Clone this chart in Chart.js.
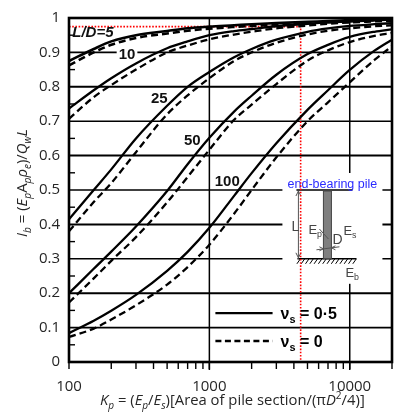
<!DOCTYPE html>
<html><head><meta charset="utf-8">
<script src="https://cdn.jsdelivr.net/npm/chart.js@4.4.0/dist/chart.umd.min.js"></script>
<style>html,body{margin:0;padding:0;background:#fff}#c{display:block}</style>
</head><body>
<canvas id="c" width="400" height="418"></canvas>
<script>
// ---- data ----
const kp = [100,150,200,300,500,700,1000,1500,2000,3000,5000,7000,10000,15000,20000];
const ld5Solid   = [0.875,0.910,0.932,0.950,0.962,0.970,0.975,0.979,0.982,0.985,0.989,0.991,0.994,0.997,0.999];
const ld5Dash    = [0.862,0.900,0.922,0.942,0.955,0.963,0.969,0.974,0.977,0.981,0.985,0.988,0.991,0.994,0.996];
const ld10Solid  = [0.737,0.790,0.825,0.868,0.912,0.932,0.950,0.962,0.968,0.976,0.983,0.987,0.990,0.993,0.995];
const ld10Dash   = [0.707,0.770,0.805,0.850,0.900,0.920,0.938,0.952,0.960,0.970,0.978,0.983,0.987,0.990,0.992];
const ld25Solid  = [0.415,0.500,0.560,0.650,0.745,0.800,0.843,0.886,0.910,0.937,0.960,0.970,0.977,0.982,0.985];
const ld25Dash   = [0.380,0.465,0.520,0.610,0.720,0.775,0.825,0.875,0.900,0.928,0.952,0.963,0.970,0.976,0.979];
const ld50Solid  = [0.200,0.271,0.321,0.394,0.497,0.575,0.652,0.728,0.774,0.835,0.895,0.922,0.945,0.960,0.967];
const ld50Dash   = [0.173,0.243,0.294,0.363,0.464,0.538,0.617,0.704,0.748,0.808,0.876,0.906,0.930,0.948,0.957];
const ld100Solid = [0.084,0.120,0.149,0.195,0.265,0.320,0.390,0.483,0.549,0.636,0.733,0.790,0.849,0.905,0.937];
const ld100Dash  = [0.073,0.097,0.1235,0.165,0.225,0.276,0.341,0.431,0.500,0.595,0.700,0.755,0.813,0.878,0.918];
const redX = [100,4470,4470];
const redY = [0.975,0.975,0];
const xTickLabels = [100,1000,10000];
const yTickValues = [0,0.1,0.2,0.3,0.4,0.5,0.6,0.7,0.8,0.9,1];
const curveLabels = ['L/D=5','10','25','50','100'];
const legendLabels = ['0·5','0'];
const insetTitle = 'end-bearing pile';

// ---- label anchors (data coords) ----
const labelAnchors = [[148,0.96],[259,0.896],[440,0.769],[756,0.645],[1340,0.526]];

const FAM = '"Open Sans", sans-serif';
const ARIAL = '"Liberation Sans", Arial, sans-serif';

function fontFor(r,size,fam){const s=(r.sub||r.sup)?size*0.68:size;return `${r.i?'italic ':''}${r.b?'bold ':''}${s}px ${fam}`;}
function measureRuns(ctx,runs,size,fam){let w=0;for(const r of runs){ctx.font=fontFor(r,size,fam);w+=ctx.measureText(r.t).width;}return w;}
function drawRuns(ctx,runs,x,y,size,fam){let cx=x;ctx.textAlign='left';ctx.textBaseline='alphabetic';for(const r of runs){ctx.font=fontFor(r,size,fam);const dy=r.sub?size*0.24:r.sup?-size*0.4:0;ctx.fillText(r.t,cx,y+dy);cx+=ctx.measureText(r.t).width;}return cx;}

const yTitle=[{t:'I',i:1},{t:'b',i:1,sub:1},{t:' = ('},{t:'E',i:1},{t:'p',i:1,sub:1},{t:'A'},{t:'p',i:1,sub:1},{t:'ρ',i:1},{t:'e',i:1,sub:1},{t:')/'},{t:'Q',i:1},{t:'w',i:1,sub:1},{t:'L',i:1}];
const xTitle=[{t:'K',i:1},{t:'p',i:1,sub:1},{t:' = ('},{t:'E',i:1},{t:'p',i:1,sub:1},{t:'/'},{t:'E',i:1},{t:'s',i:1,sub:1},{t:')[Area of pile section/(π'},{t:'D',i:1},{t:'2',sup:1},{t:'/4)]'}];

function mk(arr,dash,w){return {data:kp.map((x,i)=>({x:x,y:arr[i]})),borderColor:'#000',borderWidth:w||2.3,borderDash:dash?[7,4]:[],pointRadius:0,fill:false,cubicInterpolationMode:'monotone'};}

const datasets=[
  mk(ld5Solid,false,2.6),mk(ld5Dash,true,2.6),
  mk(ld10Solid,false),mk(ld10Dash,true),
  mk(ld25Solid,false),mk(ld25Dash,true),
  mk(ld50Solid,false),mk(ld50Dash,true),
  mk(ld100Solid,false),mk(ld100Dash,true),
  {data:redX.map((x,i)=>({x:x,y:redY[i]})),borderColor:'#ff0000',borderWidth:1.6,borderDash:[1.6,1.6],pointRadius:0,fill:false,tension:0}
];

function arrowHead(ctx,x,y,dir){
  const s = dir==='up'?1:-1;
  ctx.beginPath();ctx.moveTo(x-2.5,y+5*s);ctx.lineTo(x,y);ctx.lineTo(x+2.5,y+5*s);ctx.stroke();
}

const decor={
  id:'decor',
  beforeDatasetsDraw(chart){
    const ctx=chart.ctx, xs=chart.scales.x, ys=chart.scales.y, a=chart.chartArea;
    ctx.save();
    ctx.strokeStyle='#000';
    for(const v of yTickValues){const y=ys.getPixelForValue(v);ctx.lineWidth=(Math.round(v*10)%2===0)?2:1.6;ctx.beginPath();ctx.moveTo(a.left,y);ctx.lineTo(a.right,y);ctx.stroke();}
    ctx.lineWidth=1.5;
    for(const v of [1000,10000]){const x=xs.getPixelForValue(v);ctx.beginPath();ctx.moveTo(x,a.top);ctx.lineTo(x,a.bottom+8);ctx.stroke();}
    ctx.lineWidth=1.4;
    for(const d of [100,1000,10000]){for(let m=1;m<=9;m++){const v=d*m;if(v>20000)break;const x=xs.getPixelForValue(v);ctx.beginPath();ctx.moveTo(x,a.bottom);ctx.lineTo(x,a.bottom+7);ctx.stroke();}}
    for(let k=0;k<10;k++){const y=ys.getPixelForValue(0.05+k*0.1);ctx.beginPath();ctx.moveTo(a.left,y);ctx.lineTo(a.left+6,y);ctx.stroke();}
    // inset
    const gx=xs.getPixelForValue(4170), gy=ys.getPixelForValue(0.5), by=ys.getPixelForValue(0.3);
    ctx.fillStyle='#fff';
    ctx.fillRect(gx-14,gy-17,100,by-gy+42);
    ctx.strokeStyle='#000';ctx.lineWidth=1.6;
    ctx.beginPath();ctx.moveTo(gx,gy);ctx.lineTo(gx+56,gy);ctx.stroke();
    ctx.beginPath();ctx.moveTo(gx+1,by);ctx.lineTo(gx+60,by);ctx.stroke();
    ctx.lineWidth=1;
    for(let x=gx+4;x<=gx+60;x+=4.3){ctx.beginPath();ctx.moveTo(x,by);ctx.lineTo(x-3.5,by+5);ctx.stroke();}
    ctx.fillStyle='#7f7f7f';ctx.strokeStyle='#444';ctx.lineWidth=1;
    ctx.fillRect(gx+27,gy+1,8,by-gy-1);ctx.strokeRect(gx+27,gy+1,8,by-gy-1);
    ctx.strokeStyle='#555';ctx.lineWidth=1;
    ctx.beginPath();ctx.moveTo(gx+2,gy+1);ctx.lineTo(gx+2,by);ctx.stroke();
    arrowHead(ctx,gx+2,gy+1,'up');arrowHead(ctx,gx+2,by-1,'down');
    ctx.beginPath();ctx.moveTo(gx+20,by-9);ctx.lineTo(gx+43,by-12);ctx.stroke();
    ctx.beginPath();ctx.moveTo(gx+27,by-10);ctx.lineTo(gx+23,by-12);ctx.moveTo(gx+27,by-10);ctx.lineTo(gx+23,by-8);ctx.stroke();
    ctx.beginPath();ctx.moveTo(gx+35,by-11);ctx.lineTo(gx+39,by-13);ctx.moveTo(gx+35,by-11);ctx.lineTo(gx+39,by-9);ctx.stroke();
    ctx.beginPath();ctx.moveTo(gx+23,gy+39);ctx.lineTo(gx+32,gy+49);ctx.stroke();
    ctx.fillStyle='#444';
    ctx.font='14px '+ARIAL;ctx.textAlign='left';ctx.textBaseline='alphabetic';
    ctx.fillText('L',gx-5,gy+41);
    drawRuns(ctx,[{t:'E'},{t:'p',sub:1}],gx+12,gy+44,13,ARIAL);
    drawRuns(ctx,[{t:'E'},{t:'s',sub:1}],gx+47,gy+45,13,ARIAL);
    drawRuns(ctx,[{t:'D'}],gx+36,gy+54,14,ARIAL);
    drawRuns(ctx,[{t:'E'},{t:'b',sub:1}],gx+49,by+18,13,ARIAL);
    ctx.fillStyle='#2b2bff';ctx.font='12.5px '+ARIAL;ctx.textAlign='center';
    ctx.fillText(insetTitle,gx+36,gy-2);
    ctx.restore();
  },
  afterDatasetsDraw(chart){
    const ctx=chart.ctx, xs=chart.scales.x, ys=chart.scales.y;
    ctx.save();
    ctx.fillStyle='#111';ctx.textAlign='center';ctx.textBaseline='middle';
    curveLabels.forEach((t,i)=>{
      const x=xs.getPixelForValue(labelAnchors[i][0]), y=ys.getPixelForValue(labelAnchors[i][1]);
      ctx.font=(i===0?'italic bold 15px ':'bold 15px ')+ARIAL;
      if(i===1){const w=ctx.measureText(t).width;ctx.fillStyle='#fff';ctx.fillRect(x-w/2-2,y-7,w+4,14);ctx.fillStyle='#111';}
      ctx.fillText(t,x,y+1);
    });
    ctx.strokeStyle='#000';ctx.lineWidth=2.4;
    const lx0=xs.getPixelForValue(1104), lx1=xs.getPixelForValue(2820);
    const ly=[ys.getPixelForValue(0.142),ys.getPixelForValue(0.061)];
    [false,true].forEach((d,k)=>{
      ctx.setLineDash(d?[6,3.5]:[]);ctx.beginPath();ctx.moveTo(lx0,ly[k]);ctx.lineTo(lx1,ly[k]);ctx.stroke();
      ctx.setLineDash([]);
      ctx.fillStyle='#000';
      drawRuns(ctx,[{t:'ν',b:1},{t:'s',b:1,sub:1},{t:' = '+legendLabels[k],b:1}],lx1+8,ly[k]+6,16,ARIAL);
    });
    ctx.restore();
  },
  afterDraw(chart){
    const ctx=chart.ctx, a=chart.chartArea;
    ctx.save();
    ctx.strokeStyle='#000';ctx.lineWidth=2.6;
    ctx.strokeRect(a.left,a.top,a.right-a.left,a.bottom-a.top);
    ctx.fillStyle='#262626';
    let sz=16*108/measureRuns(ctx,yTitle,16,FAM);
    ctx.translate(27,183);ctx.rotate(-Math.PI/2);
    const wy=measureRuns(ctx,yTitle,sz,FAM);
    drawRuns(ctx,yTitle,-wy/2,0,sz,FAM);
    ctx.setTransform(1,0,0,1,0,0);
    sz=16*265/measureRuns(ctx,xTitle,16,FAM);
    drawRuns(ctx,xTitle,100,405,sz,FAM);
    ctx.restore();
  }
};

new Chart(document.getElementById('c'),{
  type:'line',
  data:{datasets:datasets},
  options:{
    responsive:false,animation:false,
    layout:{padding:{top:16,right:8,left:0,bottom:0}},
    plugins:{legend:{display:false},tooltip:{enabled:false}},
    scales:{
      x:{type:'logarithmic',min:100,max:20000,
        grid:{display:false,drawTicks:false},border:{display:false},
        afterBuildTicks:(s)=>{s.ticks=xTickLabels.map(v=>({value:v}));},
        afterFit:(s)=>{s.height=56;},
        ticks:{autoSkip:false,maxRotation:0,padding:16,color:'#262626',font:{family:'Open Sans',size:15},callback:(v)=>String(v)}},
      y:{type:'linear',min:0,max:1,
        grid:{display:false,drawTicks:false},border:{display:false},
        afterBuildTicks:(s)=>{s.ticks=yTickValues.map(v=>({value:v}));},
        afterFit:(s)=>{s.width=69;},
        ticks:{padding:9,color:'#262626',font:{family:'Open Sans',size:15},callback:(v)=>(v===0?'0':v===1?'1':v.toFixed(1))}}
    }
  },
  plugins:[decor]
});
</script>
</body></html>
